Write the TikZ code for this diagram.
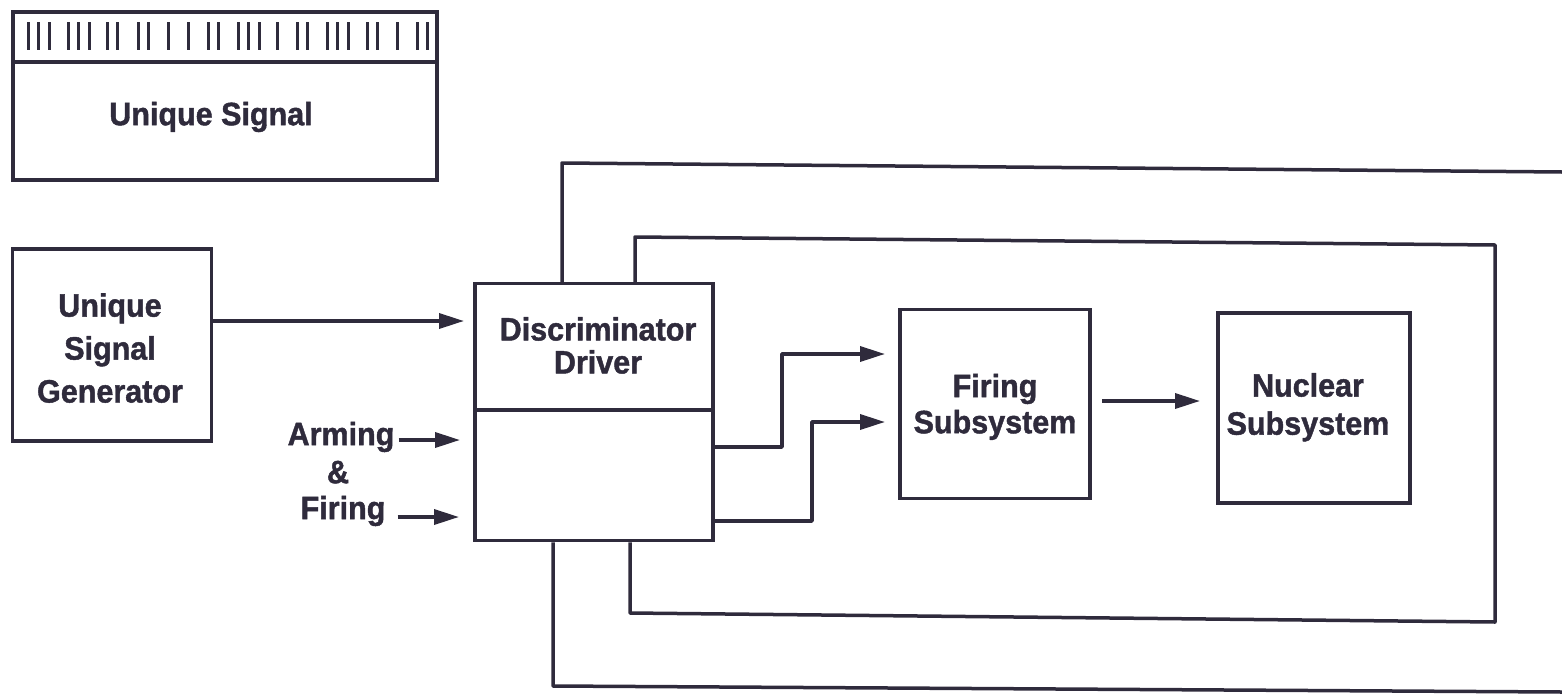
\documentclass[tikz,border=0pt]{standalone}
\usepackage{graphicx}
\usepackage{fontspec}
\setmainfont{Liberation Sans}[BoldFeatures={FakeBold=1.4}]
\usetikzlibrary{arrows.meta,calc}
\definecolor{ink}{HTML}{2F2B3C}
% tall heavy lettering, lines centred, given line spacing
\newcommand\tallstack[2]{\scalebox{1}[1.06]{\fontsize{30.5}{#1}\selectfont\bfseries\begin{tabular}{@{}c@{}}#2\end{tabular}}}
\tikzset{
  box/.style={draw=ink, line width=3.5pt, inner sep=0pt, rectangle},
  lbl/.style={text=ink, inner sep=0pt},
  wire/.style={draw=ink, line width=3.5pt, line join=round},
  arr/.style={wire, -{Triangle[length=25pt,width=15pt]}},
  bar/.style={draw=ink, line width=3pt}
}
\begin{document}
\begin{tikzpicture}[x=1pt,y=-1pt]
\useasboundingbox (0,0) rectangle (1562,696);

% signal card with its bar pattern
\node[box, minimum width=424pt, minimum height=168pt] (card) at (225,96) {};
\coordinate (cdiv) at (13,62);
\draw[wire] (cdiv -| card.west) -- (cdiv -| card.east);
\node[lbl] (cardtxt) at (211,118) {\tallstack{34}{Unique Signal}};
\foreach \s/\n in {28/3,68/3,107/2,138/2,168/1,188/1,208/2,238/3,277/1,297/2,327/3,367/2,397/1,417/2}{
  \foreach \k in {1,...,\n}{
    \draw[bar] ({\s+10.5*(\k-1)},22) -- ({\s+10.5*(\k-1)},50);
  }
}

% blocks
\node[box, minimum width=199pt, minimum height=192pt] (gen) at (112,345) {};
\node[lbl] (gentxt) at (110,351) {\tallstack{40.5}{Unique\\Signal\\Generator}};

\node[box, minimum width=238pt, minimum height=257pt] (disc) at (594,412) {};
\coordinate (ddiv) at (475,410);
\draw[wire] (ddiv -| disc.west) -- (ddiv -| disc.east);
\node[lbl] (disctxt) at (598,350) {\tallstack{30}{Discriminator\\Driver}};

\node[box, minimum width=190pt, minimum height=189pt] (fire) at (995,404) {};
\node[lbl] (firetxt) at (995,408) {\tallstack{34}{Firing\\Subsystem}};

\node[box, minimum width=192pt, minimum height=190pt] (nuc) at (1314,408) {};
\node[lbl] (nuctxt) at (1308,408) {\tallstack{36}{Nuclear\\Subsystem}};

% arming & firing inputs
\node[lbl] (arm) at (341,438) {\tallstack{34}{Arming}};
\node[lbl] (amp) at (338,476) {\tallstack{34}{\&}};
\node[lbl] (firing) at (343,512) {\tallstack{34}{Firing}};
\coordinate (armtip) at (460,440);
\coordinate (firtip) at (459,517);
\draw[arr] (arm.east) ++(4,2) -- (armtip);
\draw[arr] (firing.east) ++(12,5) -- (firtip);

% generator to discriminator
\coordinate (gentip) at (464,321);
\draw[arr] (gen.east |- gentip) -- (gentip);

% discriminator outputs to firing subsystem
\coordinate (o1) at (782,447);
\coordinate (o2) at (812,521);
\coordinate (t1) at (885,354);
\coordinate (t2) at (885,422);
\draw[arr] (disc.east |- o1) -- (o1) -- (o1 |- t1) -- (t1);
\draw[arr] (disc.east |- o2) -- (o2) -- (o2 |- t2) -- (t2);

% firing to nuclear
\coordinate (fn) at (1200,401);
\draw[arr] (1102,401) -- (fn);

% inner loop
\coordinate (il1) at (635,237);
\coordinate (il2) at (1495,245);
\coordinate (il3) at (1495,622);
\coordinate (il4) at (630,613);
\draw[wire] (disc.north -| il1) -- (il1) -- (il2) -- (il3) -- (il4) -- (disc.south -| il4);

% outer loop, running off to the right
\coordinate (ol1) at (562,163);
\coordinate (ol2) at (1562,172);
\coordinate (ol3) at (553,686);
\coordinate (ol4) at (1562,692);
\draw[wire] (disc.north -| ol1) -- (ol1) -- (ol2);
\draw[wire] (disc.south -| ol3) -- (ol3) -- (ol4);
\end{tikzpicture}
\end{document}
